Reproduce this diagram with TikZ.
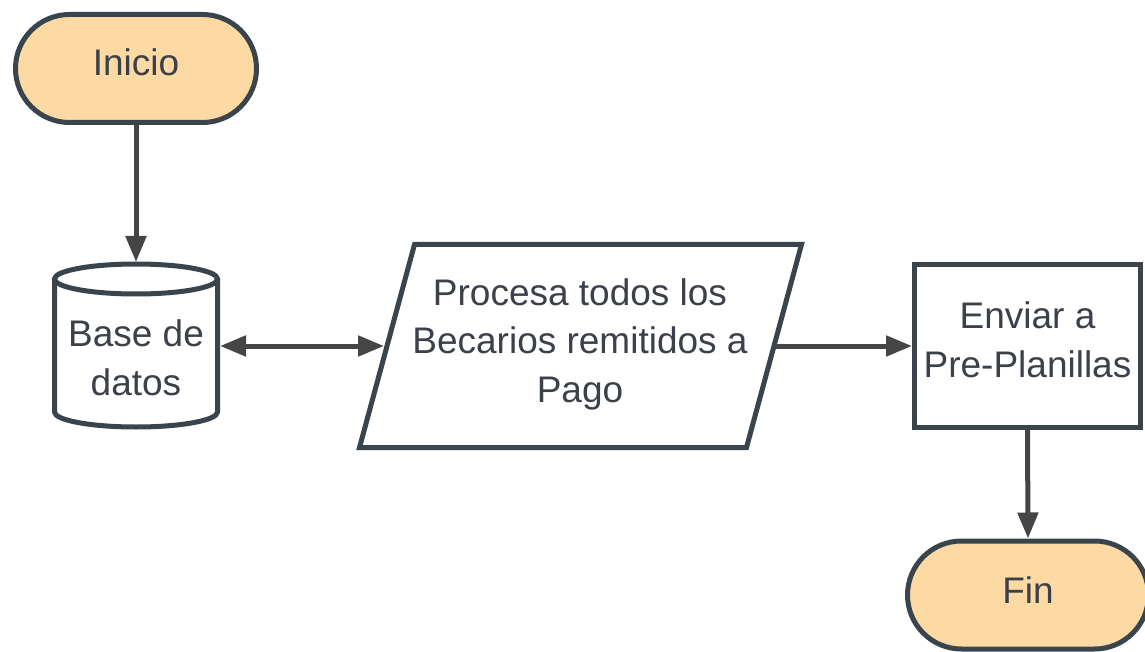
\documentclass[tikz,border=0pt]{standalone}
\usepackage{fontspec}
\setmainfont{Liberation Sans}
\usetikzlibrary{shapes.misc,arrows.meta}
\definecolor{strokec}{HTML}{3A444D}
\definecolor{arrowc}{HTML}{454545}
\definecolor{fillc}{HTML}{FDD9A3}
\definecolor{textc}{HTML}{3B4049}
\begin{document}
\begin{tikzpicture}[x=1pt,y=-1pt,
  shapeline/.style={draw=strokec, line width=5pt, line join=miter},
  term/.style={shapeline, rounded rectangle, fill=fillc, minimum width=241pt, minimum height=108pt, inner sep=0pt},
  boxnode/.style={shapeline, fill=white, rectangle, inner sep=0pt},
  ghost/.style={draw=none, inner sep=0pt, outer sep=0pt},
  lbl/.style={text=textc, font=\fontsize{37}{48.5}\selectfont, align=center, inner sep=0pt},
  conn/.style={draw=arrowc, line width=5pt, -{Triangle[length=26pt,width=20pt]}},
]
\useasboundingbox[fill=white] (0,0) rectangle (1145,652);

% Inicio
\node[term] (inicio) at (136,68.5) {};
\node[lbl] (inicioT) at (136,62) {Inicio};

% Base de datos (cylinder)
\fill[white] (54.5,279) -- (54.5,412) arc[start angle=180, end angle=0, x radius=81.5, y radius=15] -- (217.5,279) -- cycle;
\draw[shapeline] (54.5,279) -- (54.5,412) arc[start angle=180, end angle=0, x radius=81.5, y radius=15] -- (217.5,279);
\draw[shapeline, fill=white] (136,279) ellipse [x radius=81.5, y radius=15];
\node[ghost, minimum width=168pt, minimum height=168pt] (db) at (136,346) {};
\node[lbl] (dbT) at (136,358) {Base de\\datos};

% Procesa (parallelogram)
\draw[shapeline, fill=white] (414.5,244.5) -- (801.5,244.5) -- (746.5,447.5) -- (359.5,447.5) -- cycle;
\coordinate (procW) at (384,346);
\coordinate (procE) at (776,346);
\node[lbl] (procT) at (580,344) {Procesa todos los\\Becarios remitidos a\\Pago};

% Enviar
\node[boxnode, minimum width=226pt, minimum height=163pt] (env) at (1027.5,346) {};
\node[lbl] (envT) at (1027.5,340) {Enviar a\\Pre-Planillas};

% Fin
\node[term] (fin) at (1028,595) {};
\node[lbl] (finT) at (1028,590) {Fin};

% connectors
\draw[conn] (inicio.south) -- (db.north);
\draw[draw=arrowc, line width=5pt, {Triangle[length=26pt,width=20pt]}-{Triangle[length=26pt,width=20pt]}] (db.east) -- (procW);
\draw[conn] (procE) -- (env.west);
\draw[conn] (env.south) -- (fin.north);
\end{tikzpicture}
\end{document}
